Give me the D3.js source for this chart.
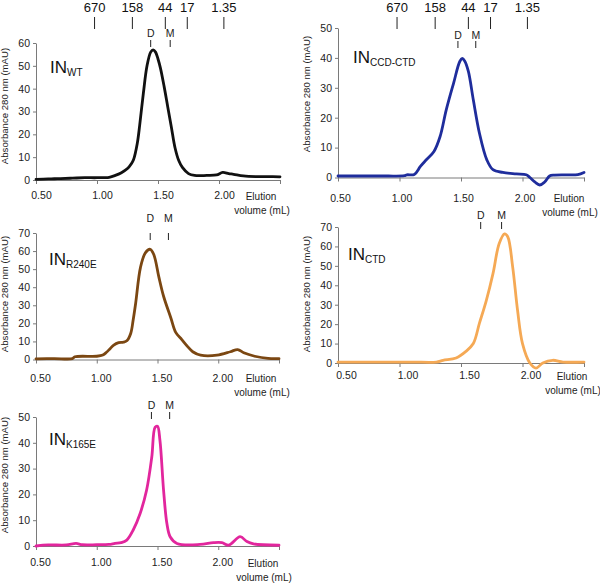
<!DOCTYPE html>
<html>
<head>
<meta charset="utf-8">
<script src="https://cdn.jsdelivr.net/npm/d3@7"></script>
<style>
  body { margin: 0; background: #fff; }
  svg { font-family: "Liberation Sans", Arial, sans-serif; }
</style>
</head>
<body>
<script>
// marker proteins (kDa) and their elution volumes
const markerMass = ["670", "158", "44", "17", "1.35"];
const markerVol = [0.98, 1.29, 1.56, 1.74, 2.04];

const xTicks = [0.5, 1.0, 1.5, 2.0, 2.5];

// IN WT
const wtVol = [0.50,0.60,0.70,0.80,0.90,1.00,1.10,1.15,1.20,1.25,1.28,1.30,1.33,1.35,1.38,1.41,1.44,1.46,1.48,1.50,1.52,1.55,1.58,1.61,1.64,1.67,1.70,1.75,1.80,1.90,1.98,2.03,2.08,2.12,2.20,2.30,2.40,2.50];
const wtAbs = [0.3,0.5,0.6,0.8,1.0,1.0,1.2,2.0,3.2,5,7,9,16,24,38,50,56,57,56,53,49,41,32,23,14,8.5,5.5,2.8,2,2,2.2,3.3,2.8,2.5,1.8,1.5,1.5,1.4];

// IN CCD-CTD
const ccdVol = [0.50,0.70,0.90,1.04,1.06,1.12,1.17,1.22,1.28,1.33,1.38,1.44,1.49,1.51,1.53,1.56,1.60,1.65,1.71,1.76,1.84,1.95,2.03,2.06,2.10,2.14,2.18,2.22,2.26,2.35,2.45,2.50];
const ccdAbs = [0.5,0.5,0.5,0.6,0.9,1.0,3.7,6,8.7,13.7,22.6,31.6,38.8,39.8,39,35.5,26,14.8,5.9,2.6,1.7,1.2,0.9,0,-1.5,-2.5,-1.5,0.5,0.8,0.9,1.0,1.7];

// IN R240E
const r240Vol = [0.50,0.65,0.80,0.82,1.00,1.05,1.08,1.11,1.14,1.18,1.22,1.25,1.28,1.30,1.32,1.36,1.40,1.44,1.47,1.51,1.55,1.61,1.65,1.70,1.75,1.79,1.855,1.99,2.10,2.16,2.21,2.30,2.41,2.50];
const r240Abs = [0.4,0.5,0.5,1.5,1.8,2.5,4,6,8,9.3,9.6,10.5,14.5,22,31,51,59,61,58,46,35,23,15,11,7,4.3,2.4,2.4,4.3,5.5,3.7,1.8,0.6,0.5];

// IN CTD
const ctdVol = [0.50,0.80,1.10,1.30,1.354,1.46,1.54,1.60,1.65,1.705,1.76,1.81,1.854,1.88,1.92,1.96,2.00,2.06,2.11,2.165,2.245,2.33,2.50];
const ctdAbs = [0.5,0.5,0.5,0.5,1.4,2.6,6,10,20.5,32,46,61.4,66.5,65,49.5,27,10,0,-2.6,0,1.4,0.5,0.5];

// IN K165E
const k165Vol = [0.50,0.60,0.75,0.83,0.88,1.00,1.10,1.15,1.20,1.247,1.30,1.357,1.41,1.453,1.48,1.50,1.52,1.55,1.577,1.604,1.66,1.85,1.96,2.03,2.085,2.18,2.236,2.29,2.50];
const k165Abs = [0,0.4,0.4,1.0,0.5,0.5,0.6,1.0,1.3,2.3,6.2,12.6,21.6,34.5,46,46.4,41,21.6,8.8,3.6,1.0,0.6,1.3,1.3,0.3,3.6,1.7,0.8,0.3];

// dimer / monomer positions per panel
const dimerVol = [1.44, 1.475, 1.44, 1.66, 1.45];
const monoVol = [1.60, 1.62, 1.59, 1.83, 1.60];

const svg = d3.select("body")
    .append("svg")
    .attr("width", 600)
    .attr("height", 583);

const panels = [
    {sub: "WT", vol: wtVol, abs: wtAbs, color: "#111111", yMax: 60, x0: 36, x1: 280, yTop: 43, yBot: 180, pad: 8, dx: 5, inX: 50, inY: 73, dmY: 37, tickY: 40, markers: true, yLab: 106, elX: 261},
    {sub: "CCD-CTD", vol: ccdVol, abs: ccdAbs, color: "#1f2d9c", yMax: 50, x0: 338, x1: 584, yTop: 28, yBot: 177.5, pad: 13, dx: 2, inX: 353, inY: 63, dmY: 39, tickY: 41, markers: true, yLab: 94, elX: 569},
    {sub: "R240E", vol: r240Vol, abs: r240Abs, color: "#7b4712", yMax: 70, x0: 36, x1: 279, yTop: 233, yBot: 359.5, pad: 11, dx: 4, inX: 49, inY: 265, dmY: 222, tickY: 233, markers: false, yLab: 294, elX: 261},
    {sub: "CTD", vol: ctdVol, abs: ctdAbs, color: "#f5a955", yMax: 70, x0: 338, x1: 584, yTop: 227, yBot: 363, pad: 5, dx: 8, inX: 348, inY: 260, dmY: 219, tickY: 222, markers: false, yLab: 294, elX: 572},
    {sub: "K165E", vol: k165Vol, abs: k165Abs, color: "#e2269d", yMax: 50, x0: 36, x1: 279, yTop: 417, yBot: 546, pad: 9, dx: 4, inX: 49, inY: 445, dmY: 409, tickY: 412, markers: false, yLab: 475, elX: 263}
];

panels.forEach((p, i) => {
    const x = d3.scaleLinear().domain([0.5, 2.5]).range([p.x0, p.x1]);
    const y = d3.scaleLinear().domain([0, p.yMax]).range([p.yBot, p.yTop]);
    const g = svg.append("g");

    // y axis
    const yAxis = d3.axisLeft(y)
        .tickValues(d3.range(0, p.yMax + 1, 10))
        .tickSize(3).tickSizeOuter(0).tickPadding(3);
    g.append("g")
        .attr("transform", "translate(" + p.x0 + ",0)")
        .call(yAxis)
        .call(a => a.selectAll("text").attr("font-size", 10.5).attr("fill", "#222").attr("font-family", null))
        .call(a => a.selectAll("path,line").attr("stroke", "#7a7a7a"));

    // x axis
    const xAxis = d3.axisBottom(x)
        .tickValues(xTicks)
        .tickSize(4).tickSizeOuter(0).tickPadding(p.pad)
        .tickFormat(d => d === 2.5 ? "" : d3.format(".2f")(d));
    g.append("g")
        .attr("transform", "translate(0," + p.yBot + ")")
        .call(xAxis)
        .call(a => a.selectAll("text").attr("font-size", 10.5).attr("fill", "#222").attr("dx", p.dx).attr("font-family", null))
        .call(a => a.selectAll("path,line").attr("stroke", "#7a7a7a"));

    const labY = p.yBot + 4 + p.pad + 4;
    g.append("text").attr("x", p.elX).attr("y", labY + 3.5)
        .attr("text-anchor", "middle").attr("font-size", 10).attr("fill", "#222")
        .text("Elution");
    g.append("text").attr("x", p.elX + 1).attr("y", labY + 17.5)
        .attr("text-anchor", "middle").attr("font-size", 10).attr("fill", "#222")
        .text("volume (mL)");

    // y label
    const lx = p.x0 - 28;
    g.append("text")
        .attr("transform", "translate(" + lx + "," + p.yLab + ") rotate(-90)")
        .attr("text-anchor", "middle").attr("font-size", 9.6).attr("fill", "#222")
        .text("Absorbance 280 nm (mAU)");

    // trace
    const line = d3.line()
        .x((d, j) => x(p.vol[j]))
        .y(d => y(d))
        .curve(d3.curveCatmullRom.alpha(0.5));
    g.append("path")
        .datum(p.abs)
        .attr("d", line)
        .attr("fill", "none")
        .attr("stroke", p.color)
        .attr("stroke-width", 2.8)
        .attr("stroke-linejoin", "round")
        .attr("stroke-linecap", "round");

    // panel name
    const name = g.append("text").attr("x", p.inX).attr("y", p.inY).attr("fill", "#111");
    name.append("tspan").attr("font-size", 17).text("IN");
    name.append("tspan").attr("font-size", 10).attr("dy", 3).text(p.sub);

    // dimer / monomer marks
    [["D", dimerVol[i]], ["M", monoVol[i]]].forEach(m => {
        g.append("text").attr("x", x(m[1])).attr("y", p.dmY)
            .attr("text-anchor", "middle").attr("font-size", 10.5).attr("fill", "#222")
            .text(m[0]);
        g.append("line")
            .attr("x1", x(m[1])).attr("x2", x(m[1]))
            .attr("y1", p.tickY).attr("y2", p.tickY + 7)
            .attr("stroke", "#222").attr("stroke-width", 1);
    });

    // size markers on top
    if (p.markers) {
        markerMass.forEach((mm, k) => {
            g.append("text").attr("x", x(markerVol[k])).attr("y", 12)
                .attr("text-anchor", "middle").attr("font-size", 13).attr("fill", "#111")
                .text(mm);
            g.append("line")
                .attr("x1", x(markerVol[k])).attr("x2", x(markerVol[k]))
                .attr("y1", 17).attr("y2", 29)
                .attr("stroke", "#222").attr("stroke-width", 1);
        });
    }
});
</script>
</body>
</html>
